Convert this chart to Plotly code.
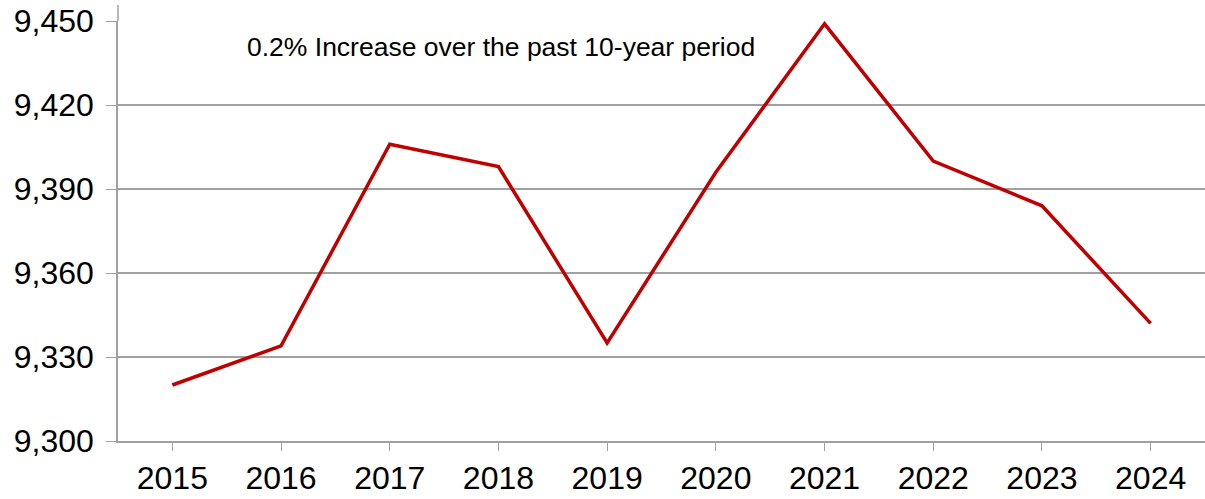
import plotly.graph_objects as go

years = ["2015", "2016", "2017", "2018", "2019", "2020", "2021", "2022", "2023", "2024"]
values = [9320, 9334, 9406, 9398, 9335, 9396, 9449, 9400, 9384, 9342]
y_ticks = [9300, 9330, 9360, 9390, 9420, 9450]
note = "0.2% Increase over the past 10-year period"

fig = go.Figure()
fig.add_trace(go.Scatter(x=years, y=values, mode="lines",
                         line=dict(color="#C00000", width=3.5)))

fig.update_layout(
    width=1205, height=499,
    margin=dict(l=118, r=0, t=21, b=58, autoexpand=False),
    plot_bgcolor="white", paper_bgcolor="white",
    showlegend=False,
    font=dict(family="Liberation Sans, Arial", color="black"),
)
fig.update_xaxes(type="category", showgrid=False, showline=True, linecolor="#A0A0A0",
                 linewidth=1.5, ticks="outside", ticklen=8, tickcolor="#A0A0A0",
                 tickfont=dict(size=32), range=[-0.5, 9.5], automargin=False)
fig.update_yaxes(range=[9300, 9450], tickvals=y_ticks,
                 ticktext=[f"{v:,}" for v in y_ticks],
                 showgrid=True, gridcolor="#A0A0A0", gridwidth=1.5,
                 showline=True, linecolor="#A0A0A0", linewidth=1.5,
                 ticks="outside", ticklen=10, tickcolor="#A0A0A0",
                 ticklabelstandoff=6, ticklabeloverflow="allow",
                 tickfont=dict(size=32), zeroline=False, automargin=False)
fig.add_shape(type="line", xref="paper", yref="paper", x0=0, x1=0, y0=1, y1=1.038,
              line=dict(color="#A0A0A0", width=1.5))
fig.add_annotation(text=note, xref="paper", yref="paper", x=0.117, y=0.938,
                   xanchor="left", yanchor="middle", showarrow=False,
                   font=dict(size=26.5, color="black"))
fig.write_html("out.html", config={"displayModeBar": False},
               post_script="document.body.style.margin='0';document.body.style.overflow='hidden';")
